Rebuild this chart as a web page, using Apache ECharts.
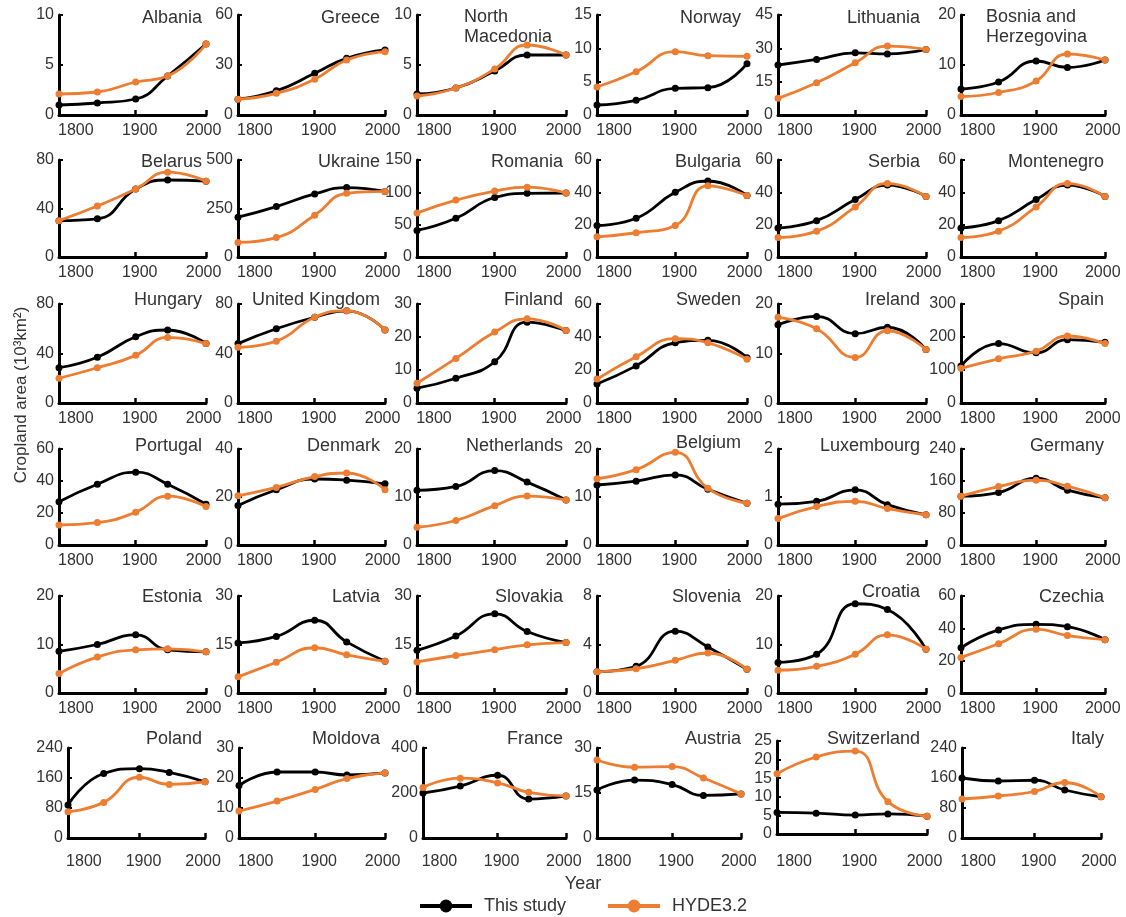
<!DOCTYPE html>
<html>
<head>
<meta charset="utf-8">
<script src="https://cdn.jsdelivr.net/npm/echarts@6/dist/echarts.min.js"></script>
<style>
  html, body { margin: 0; padding: 0; background: #fff; }
  #chart { width: 1126px; height: 917px; }
</style>
</head>
<body>
<div id="chart"></div>
<script>
// Sample years and the year labels shown under each panel
const years = [1780, 1840, 1900, 1950, 2010];
const xTickLabels = [1800, 1900, 2000];

const countries = [
  'Albania', 'Greece', 'North\nMacedonia', 'Norway', 'Lithuania', 'Bosnia and\nHerzegovina',
  'Belarus', 'Ukraine', 'Romania', 'Bulgaria', 'Serbia', 'Montenegro',
  'Hungary', 'United Kingdom', 'Finland', 'Sweden', 'Ireland', 'Spain',
  'Portugal', 'Denmark', 'Netherlands', 'Belgium', 'Luxembourg', 'Germany',
  'Estonia', 'Latvia', 'Slovakia', 'Slovenia', 'Croatia', 'Czechia',
  'Poland', 'Moldova', 'France', 'Austria', 'Switzerland', 'Italy'
];

// y-axis range (0..max) and tick step per country
const yMax  = [10, 60, 10, 15, 45, 20,  80, 500, 150, 60, 60, 60,  80, 80, 30, 60, 20, 300,
               60, 40, 20, 20, 2, 240,  20, 30, 30, 8, 20, 60,  240, 30, 400, 30, 25, 240];
const yStep = [5, 30, 5, 5, 15, 10,  40, 250, 50, 20, 20, 20,  40, 40, 10, 20, 10, 100,
               20, 20, 10, 10, 1, 80,  10, 15, 15, 4, 10, 20,  80, 10, 200, 15, 5, 80];

// Cropland area (10^3 km^2), one row per country, one value per sample year
const thisStudy = [
  [1.0, 1.2, 1.6, 3.9, 7.1], [9.5, 14.5, 25, 34, 39], [2.1, 2.7, 4.4, 6.0, 6.0],
  [1.5, 2.2, 4.0, 4.1, 7.7], [22.5, 25, 28, 27.5, 29.5], [5.2, 6.6, 10.8, 9.5, 11],
  [30, 31.5, 56, 63.5, 62.5], [205, 260, 325, 358, 338], [41, 60, 92, 98.5, 99],
  [19.5, 24, 40, 47, 38], [18, 22.5, 35.5, 44.5, 37.5], [18, 22.5, 35.5, 44.5, 37.5],
  [28.5, 37, 53.5, 59, 48], [48, 60, 69.3, 74.5, 59], [4.5, 7.5, 12.5, 24.5, 22],
  [11.5, 22.5, 36.5, 38, 27.5], [15.8, 17.5, 14, 15.3, 10.8], [112, 180, 152, 192, 184],
  [27, 38, 45.5, 38, 25.5], [16.5, 23, 27.5, 27, 25.5], [11.4, 12.2, 15.5, 13.1, 9.4],
  [12.5, 13.3, 14.6, 11.6, 8.7], [0.85, 0.91, 1.15, 0.84, 0.63], [122, 131, 167, 137, 118],
  [8.6, 10, 12, 8.9, 8.5], [15.5, 17.5, 22.5, 15.8, 9.8], [13.2, 17.6, 24.5, 19, 15.6],
  [1.75, 2.2, 5.1, 3.8, 1.95], [6.3, 8, 18.4, 17.2, 9], [28, 39, 42.5, 41, 33],
  [88, 172, 185, 175, 150], [17.5, 22, 22, 21, 21.7], [200, 231, 279, 173, 187],
  [16, 19.3, 17.8, 14.2, 14.7], [5.8, 5.6, 5.1, 5.4, 4.8], [160, 152, 154, 128, 110]
];
const hyde = [
  [2.1, 2.3, 3.3, 3.9, 7.1], [9.5, 13, 21.5, 33, 38], [1.9, 2.7, 4.6, 7.0, 6.0],
  [4.2, 6.5, 9.5, 8.9, 8.8], [7.5, 14.5, 23.5, 31, 29.5], [3.7, 4.5, 6.8, 12.2, 11],
  [30, 42, 56, 70, 62.5], [75, 100, 215, 328, 338], [68, 88, 102, 108, 99],
  [12.5, 15, 19.5, 44, 38], [12, 16, 31, 45.5, 37.5], [12, 16, 31, 45.5, 37.5],
  [20, 28.5, 38.5, 53, 48], [45, 50, 69.3, 74.5, 59], [6, 13.5, 21.5, 25.5, 22],
  [14.5, 28, 39, 36.5, 26.5], [17.3, 15, 9.2, 14.6, 10.8], [105, 134, 157, 203, 180],
  [12.5, 14, 20.5, 30.5, 24], [20.5, 24, 28.5, 30, 23], [3.7, 5.1, 8.2, 10.2, 9.4],
  [13.8, 15.7, 19.3, 11.8, 8.7], [0.55, 0.8, 0.91, 0.76, 0.63], [122, 146, 162, 147, 118],
  [4, 7.4, 8.9, 9.1, 8.5], [5, 9.5, 14, 11.8, 9.8], [9.6, 11.6, 13.4, 14.9, 15.6],
  [1.75, 2.0, 2.7, 3.3, 1.95], [4.7, 5.5, 8, 12, 9], [22, 30.5, 39.5, 35.5, 33],
  [70, 95, 162, 143, 150], [9, 12.3, 16.2, 19.8, 21.7], [225, 266, 245, 203, 187],
  [26, 23.6, 23.8, 20, 14.7], [16.2, 20.7, 22.3, 8.7, 4.8], [104, 112, 124, 148, 110]
];

// Panel layout (pixels)
const rowTop    = [15, 160, 304, 449, 596, 748];
const rowBottom = [115, 257, 403, 545, 693, 838];
const titleY    = [18, 162, 300, 446, 597, 739];
const colLeft   = [59, 238, 417, 597, 778, 961];
const colRight  = [206, 385, 566, 747, 926, 1105];
const lastLeft  = [68, 239, 423, 597, 777, 962];
const lastRight = [205, 385, 566, 741, 927, 1101];
const titleRight = [202, 380, 563, 741, 920, 1104];
const multiLineTitleLeft = { 2: 464, 5: 986 };

const FONT = '"Liberation Sans", Arial, sans-serif';
const TEXT = '#333';
const BLACK = '#000000';
const ORANGE = '#ED7D31';

const grids = [], xAxes = [], yAxes = [], series = [], graphics = [];

countries.forEach((name, i) => {
  const r = Math.floor(i / 6), c = i % 6;
  const left = r === 5 ? lastLeft[c] : colLeft[c];
  const right = r === 5 ? lastRight[c] : colRight[c];
  let top = rowTop[r], bottom = rowBottom[r];
  if (name === 'Switzerland') { top = 741; bottom = 834; }

  grids.push({ left: left, top: top, width: right - left, height: bottom - top, containLabel: false });

  xAxes.push({
    type: 'value', gridIndex: i, min: 1780, max: 2010,
    axisLine: { show: true, onZero: false, lineStyle: { color: BLACK, width: 3 } },
    axisTick: { show: true, inside: true, length: 5, customValues: [1900, 2010],
                lineStyle: { color: BLACK, width: 2.5 } },
    axisLabel: { customValues: xTickLabels, color: TEXT, fontSize: 16, fontFamily: FONT,
                 margin: r === 5 ? (name === 'Switzerland' ? 20 : 16) : 8, padding: [0, 0, 0, 8],
                 formatter: v => String(v) },
    splitLine: { show: false }
  });

  yAxes.push({
    type: 'value', gridIndex: i, min: 0, max: yMax[i], interval: yStep[i],
    axisLine: { show: true, onZero: false, lineStyle: { color: BLACK, width: 3 } },
    axisTick: { show: true, inside: true, length: 4, lineStyle: { color: BLACK, width: 2 } },
    axisLabel: { color: TEXT, fontSize: 16, fontFamily: FONT, margin: 5, formatter: v => String(v) },
    splitLine: { show: false }
  });

  const common = {
    type: 'line', xAxisIndex: i, yAxisIndex: i, smooth: 0.5,
    symbol: 'circle', symbolSize: 7, showSymbol: true, animation: false
  };
  series.push(Object.assign({}, common, {
    name: 'This study', z: 2,
    data: years.map((yr, k) => [yr, thisStudy[i][k]]),
    lineStyle: { color: BLACK, width: 2.8 }, itemStyle: { color: BLACK }
  }));
  series.push(Object.assign({}, common, {
    name: 'HYDE3.2', z: 3,
    data: years.map((yr, k) => [yr, hyde[i][k]]),
    lineStyle: { color: ORANGE, width: 2.8 }, itemStyle: { color: ORANGE }
  }));

  // Country name in the top-right corner of its panel
  let ty = titleY[r];
  if (name === 'Croatia') ty = 592;
  if (name === 'Belgium') ty = 443;
  if (multiLineTitleLeft[i] !== undefined) {
    graphics.push({
      type: 'text', x: multiLineTitleLeft[i], y: 7,
      style: { text: name, fill: TEXT, font: '18px ' + FONT, align: 'left',
               verticalAlign: 'top', lineHeight: 20 }
    });
  } else {
    graphics.push({
      type: 'text', x: titleRight[c], y: ty,
      style: { text: name, fill: TEXT, font: '18px ' + FONT, align: 'right', verticalAlign: 'middle' }
    });
  }
});

// Shared axis titles
graphics.push({
  type: 'text', x: 21, y: 395, rotation: Math.PI / 2,
  style: { text: 'Cropland area (10³km²)', fill: TEXT, font: '17px ' + FONT,
           align: 'center', verticalAlign: 'middle' }
});
graphics.push({
  type: 'text', x: 583, y: 884,
  style: { text: 'Year', fill: TEXT, font: '18px ' + FONT, align: 'center', verticalAlign: 'middle' }
});

const chart = echarts.init(document.getElementById('chart'), null, { renderer: 'canvas' });
chart.setOption({
  animation: false,
  backgroundColor: '#fff',
  grid: grids,
  xAxis: xAxes,
  yAxis: yAxes,
  series: series,
  graphic: graphics,
  legend: {
    data: ['This study', 'HYDE3.2'],
    left: 418, top: 897, padding: 0,
    itemWidth: 52, itemHeight: 16, itemGap: 40,
    lineStyle: { width: 4 },
    textStyle: { color: TEXT, fontSize: 18, fontFamily: FONT, padding: [0, 0, 0, 7] }
  }
});
</script>
</body>
</html>
